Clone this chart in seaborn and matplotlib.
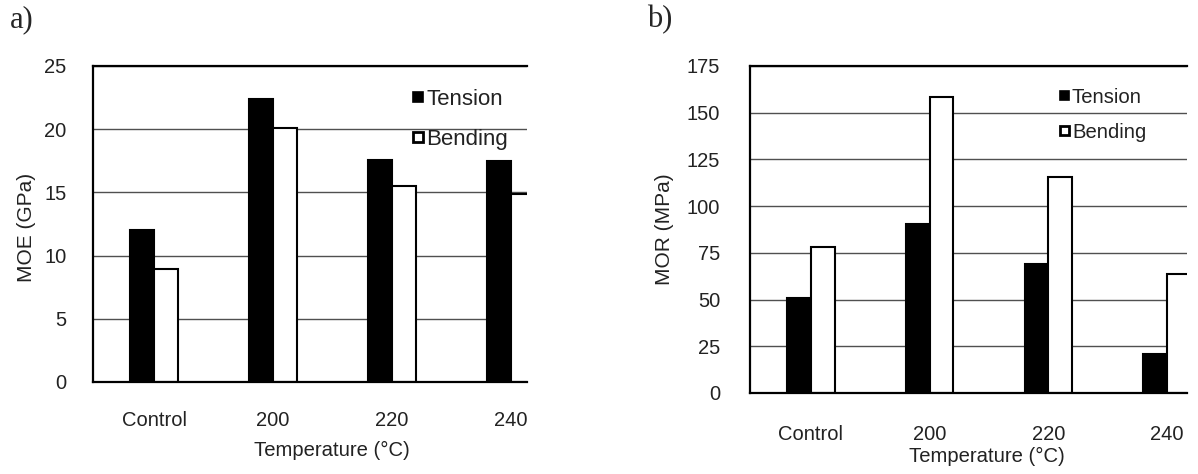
import pandas as pd
import matplotlib.pyplot as plt
import seaborn as sns
from matplotlib.patches import Patch

# Datos
categories = ["Control", "200", "220", "240"]
series = ["Tension", "Bending"]
moe_tension = [12.0, 22.4, 17.6, 17.5]
moe_bending = [8.9, 20.1, 15.5, 14.9]
mor_tension = [51, 90.5, 69, 21]
mor_bending = [78, 158.5, 115.5, 63.5]

sns.set_style("white")
plt.rcParams['font.family'] = ['Liberation Sans', 'DejaVu Sans']

def make_df(tension, bending):
    return pd.DataFrame({
        "Temperature": categories * 2,
        "Test": ["Tension"] * 4 + ["Bending"] * 4,
        "value": tension + bending,
    })

df_moe = make_df(moe_tension, moe_bending)
df_mor = make_df(mor_tension, mor_bending)

fig = plt.figure(figsize=(11.98, 4.74), dpi=100)
ax1 = fig.add_axes([0.0776, 0.1941, 0.3623, 0.6667])
ax2 = fig.add_axes([0.626, 0.1709, 0.3648, 0.6899])

pal = {"Tension": "black", "Bending": "white"}
txt = "#222222"

panels = [
    (ax1, df_moe, "MOE (GPa)", 25, 5, 3.134, 21, 19, (0.551, -0.185), (-0.131, 0.49), (0.737, 0.927), 0.85, 16),
    (ax2, df_mor, "MOR (MPa)", 175, 25, 3.168, 23, 21.5, (0.542, -0.165), (-0.174, 0.50), (0.709, 0.933), 0.77, 14.6),
]

for ax, df, ylab, ymax, step, xr, xpad, ypad, xl, yl, lg, lsp, lfs in panels:
    sns.barplot(data=df, x="Temperature", y="value", hue="Test", order=categories,
                hue_order=series, palette=pal, width=0.4, edgecolor="black",
                linewidth=1.5, saturation=1, legend=False, ax=ax)
    ax.set_xlim(-0.513, xr)
    ax.set_ylim(0, ymax)
    ax.set_yticks(range(0, ymax + 1, step))
    ax.yaxis.grid(True, color="#505050", lw=1)
    ax.set_axisbelow(True)
    for s in ["top", "left", "bottom"]:
        ax.spines[s].set_color("black")
        ax.spines[s].set_linewidth(1.6)
    ax.spines["right"].set_visible(False)
    ax.tick_params(axis="x", length=0, pad=xpad, labelsize=14.5, labelcolor=txt)
    ax.tick_params(axis="y", length=0, pad=ypad, labelsize=14.5, labelcolor=txt)
    ax.set_xlabel("Temperature (°C)", fontsize=14.6, color=txt)
    ax.set_ylabel(ylab, fontsize=15, color=txt)
    ax.xaxis.set_label_coords(*xl)
    ax.yaxis.set_label_coords(*yl)
    handles = [Patch(facecolor="black", edgecolor="black", lw=1.2, label="Tension"),
               Patch(facecolor="white", edgecolor="black", lw=2, label="Bending")]
    ax.legend(handles=handles, loc="upper left", bbox_to_anchor=lg, frameon=False,
              borderpad=0, borderaxespad=0, handlelength=0.45, handleheight=0.3,
              handletextpad=0.15, labelspacing=lsp, fontsize=lfs,
              labelcolor=txt)

fig.text(0.008, 0.99, "a)", family="Liberation Serif", fontsize=22, va="top")
fig.text(0.540, 0.99, "b)", family="Liberation Serif", fontsize=22, va="top")

fig.savefig("out.png", dpi=100)
